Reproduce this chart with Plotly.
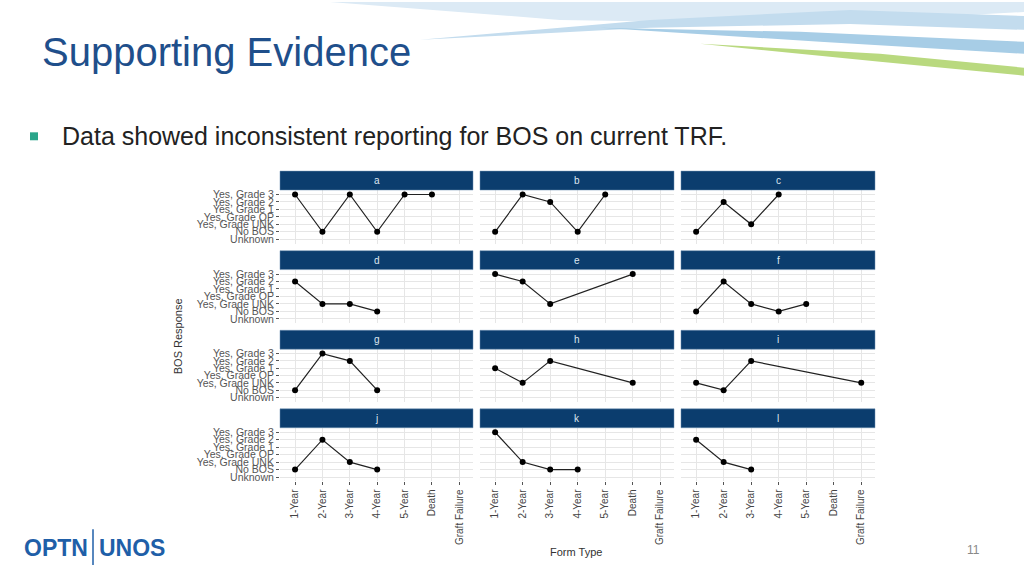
import plotly.graph_objects as go

W, H = 1024, 576

bos_levels = ["Unknown", "No BOS", "Yes, Grade UNK", "Yes, Grade OP",
              "Yes, Grade 1", "Yes, Grade 2", "Yes, Grade 3"]
form_types = ["1-Year", "2-Year", "3-Year", "4-Year", "5-Year", "Death", "Graft Failure"]

panel_names = ["a", "b", "c", "d", "e", "f", "g", "h", "i", "j", "k", "l"]
panel_x = {
    "a": ["1-Year", "2-Year", "3-Year", "4-Year", "5-Year", "Death"],
    "b": ["1-Year", "2-Year", "3-Year", "4-Year", "5-Year"],
    "c": ["1-Year", "2-Year", "3-Year", "4-Year"],
    "d": ["1-Year", "2-Year", "3-Year", "4-Year"],
    "e": ["1-Year", "2-Year", "3-Year", "Death"],
    "f": ["1-Year", "2-Year", "3-Year", "4-Year", "5-Year"],
    "g": ["1-Year", "2-Year", "3-Year", "4-Year"],
    "h": ["1-Year", "2-Year", "3-Year", "Death"],
    "i": ["1-Year", "2-Year", "3-Year", "Graft Failure"],
    "j": ["1-Year", "2-Year", "3-Year", "4-Year"],
    "k": ["1-Year", "2-Year", "3-Year", "4-Year"],
    "l": ["1-Year", "2-Year", "3-Year"],
}
panel_y = {
    "a": ["Yes, Grade 3", "No BOS", "Yes, Grade 3", "No BOS", "Yes, Grade 3", "Yes, Grade 3"],
    "b": ["No BOS", "Yes, Grade 3", "Yes, Grade 2", "No BOS", "Yes, Grade 3"],
    "c": ["No BOS", "Yes, Grade 2", "Yes, Grade UNK", "Yes, Grade 3"],
    "d": ["Yes, Grade 2", "Yes, Grade UNK", "Yes, Grade UNK", "No BOS"],
    "e": ["Yes, Grade 3", "Yes, Grade 2", "Yes, Grade UNK", "Yes, Grade 3"],
    "f": ["No BOS", "Yes, Grade 2", "Yes, Grade UNK", "No BOS", "Yes, Grade UNK"],
    "g": ["No BOS", "Yes, Grade 3", "Yes, Grade 2", "No BOS"],
    "h": ["Yes, Grade 1", "Yes, Grade UNK", "Yes, Grade 2", "Yes, Grade UNK"],
    "i": ["Yes, Grade UNK", "No BOS", "Yes, Grade 2", "Yes, Grade UNK"],
    "j": ["No BOS", "Yes, Grade 2", "Yes, Grade UNK", "No BOS"],
    "k": ["Yes, Grade 3", "Yes, Grade UNK", "No BOS", "No BOS"],
    "l": ["Yes, Grade 2", "Yes, Grade UNK", "No BOS"],
}

NAVY = "#0b3d6e"
col_x = [(280, 473), (480, 674), (681, 875)]
row_y = [(170, 189, 243), (250, 269, 323), (330, 349, 402), (409, 428, 482)]


def px(x, y):
    # pixel position -> paper string for svg paths
    return f"{x / W:.4f},{1 - y / H:.4f}"


def note(text, x, y, size, color, **kw):
    d = dict(text=text, xref="paper", yref="paper", x=x / W, y=1 - y / H,
             showarrow=False, xanchor="center", yanchor="middle",
             font=dict(size=size, color=color, family="Liberation Sans"))
    d.update(kw)
    return d


fig = go.Figure()
shapes, annotations = [], []
layout = {}

# background swoosh, top right
swoosh = [
    ([(330, 0), (1024, 0), (1024, 10), (800, 22), (560, 18)], "#dceaf5"),
    ([(420, 38), (650, 18), (850, 8), (1024, 14), (1024, 28), (850, 22), (650, 26)], "#c3dcee"),
    ([(600, 26), (800, 30), (1024, 40), (1024, 52), (820, 40)], "#a7cde6"),
    ([(700, 42), (880, 52), (1024, 66), (1024, 74), (880, 60)], "#b9d97f"),
]
for pts, col in swoosh:
    path = "M " + " L ".join(px(x, y) for x, y in pts) + " Z"
    shapes.append(dict(type="path", path=path, xref="paper", yref="paper",
                       fillcolor=col, line_width=0, layer="below"))

for i, name in enumerate(panel_names):
    r, c = divmod(i, 3)
    x0, x1 = col_x[c]
    ys, yt, yb = row_y[r]
    n = i + 1
    layout[f"xaxis{n}"] = dict(
        domain=[x0 / W, x1 / W], anchor=f"y{n}", type="category",
        categoryorder="array", categoryarray=form_types, range=[-0.55, 6.5],
        tickmode="array", tickvals=form_types,
        showgrid=True, gridcolor="#e6e6e6", zeroline=False,
        showticklabels=(r == 3), tickangle=-90, ticks="outside" if r == 3 else "",
        ticklen=3, tickcolor="#555", tickfont=dict(size=10, color="#444", family="Liberation Sans"),
    )
    layout[f"yaxis{n}"] = dict(
        domain=[1 - yb / H, 1 - yt / H], anchor=f"x{n}", type="category",
        categoryorder="array", categoryarray=bos_levels, range=[-0.6, 6.6],
        tickmode="array", tickvals=bos_levels,
        showgrid=True, gridcolor="#e6e6e6", zeroline=False,
        showticklabels=(c == 0), ticks="outside" if c == 0 else "", ticklen=3,
        tickcolor="#555", tickfont=dict(size=10.5, color="#555", family="Liberation Sans"),
    )
    fig.add_trace(go.Scatter(
        x=panel_x[name], y=panel_y[name], mode="lines+markers",
        xaxis=f"x{n}", yaxis=f"y{n}", showlegend=False,
        line=dict(color="#222", width=1.2), marker=dict(color="black", size=6),
    ))
    shapes.append(dict(type="rect", xref="paper", yref="paper",
                       x0=x0 / W, x1=x1 / W, y0=1 - yt / H, y1=1 - ys / H,
                       fillcolor=NAVY, line=dict(color="#6a8fb0", width=0.5)))
    annotations.append(note(name, (x0 + x1) / 2, (ys + yt) / 2, 10, "#dde6f0"))

annotations += [
    note("BOS Response", 178, 336, 11, "#333", textangle=-90),
    note("Form Type", 576, 553, 11, "#333"),
    note("Supporting Evidence", 40, 50, 40, "#1f4f8b", xanchor="left"),
    note("Data showed inconsistent reporting for BOS on current TRF.", 60, 135, 25, "#222",
         xanchor="left"),
    note("<b>OPTN</b>", 90, 549, 23, "#1f5fa8", xanchor="right"),
    note("<b>UNOS</b>", 97, 549, 23, "#1f5fa8", xanchor="left"),
    note("11", 973, 551, 12, "#888"),
]
shapes += [
    dict(type="rect", xref="paper", yref="paper", x0=30 / W, x1=38 / W,
         y0=1 - 139 / H, y1=1 - 131 / H, fillcolor="#2aa58a", line_width=0),
    dict(type="line", xref="paper", yref="paper", x0=93 / W, x1=93 / W,
         y0=1 - 566 / H, y1=1 - 530 / H, line=dict(color="#1f5fa8", width=1.5)),
]

fig.update_layout(width=W, height=H, margin=dict(l=0, r=0, t=0, b=0),
                  paper_bgcolor="white", plot_bgcolor="white",
                  shapes=shapes, annotations=annotations, **layout)
fig.write_html("out.html", config={"displayModeBar": False},
               post_script="document.body.style.margin='0';document.body.style.overflow='hidden';")
